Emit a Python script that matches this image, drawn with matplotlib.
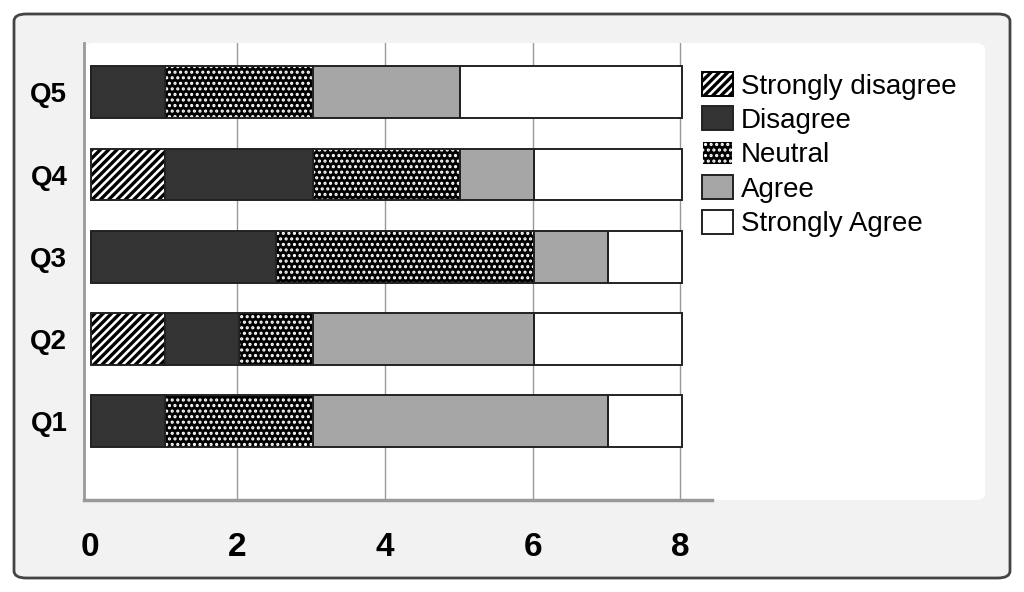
import matplotlib
matplotlib.use("Agg")
import matplotlib.pyplot as plt
from matplotlib.patches import FancyBboxPatch, Patch
import numpy as np

questions = ["Q1", "Q2", "Q3", "Q4", "Q5"]
categories = ["Strongly disagree", "Disagree", "Neutral", "Agree", "Strongly Agree"]
strongly_disagree = [0, 1, 0, 1, 0]
disagree = [1, 1, 2.5, 2, 1]
neutral = [2, 1, 3.5, 2, 2]
agree = [4, 3, 1, 1, 2]
strongly_agree = [1, 2, 1, 2, 3]
xticks = [0, 2, 4, 6, 8]

series = [strongly_disagree, disagree, neutral, agree, strongly_agree]
# (face, hatch colour, hatch, hatch linewidth)
styles = [
    ("white", "black", "////", 2.4),
    ("#333333", "#333333", None, 1.0),
    ("black", "white", "...", 1.5),
    ("#a6a6a6", "#a6a6a6", None, 1.0),
    ("white", "white", None, 1.0),
]

plt.rcParams["font.family"] = ["Liberation Sans", "DejaVu Sans"]

fig = plt.figure(figsize=(10.24, 5.92), dpi=100)
fig.patch.set_facecolor("white")

W, H = 1024, 592
def fx(px):
    return px / W
def fy(py):
    return 1 - py / H

outer = FancyBboxPatch((fx(14), fy(578)), fx(1010) - fx(14), fy(14) - fy(578),
                       boxstyle="round,pad=0,rounding_size=0.012",
                       transform=fig.transFigure, facecolor="#f2f2f2",
                       edgecolor="#444444", linewidth=2.0, zorder=-3)
fig.patches.append(outer)
inner = FancyBboxPatch((fx(84), fy(500)), fx(985) - fx(84), fy(43) - fy(500),
                       boxstyle="round,pad=0,rounding_size=0.01",
                       transform=fig.transFigure, facecolor="white",
                       edgecolor="none", linewidth=0, zorder=-2)
fig.patches.append(inner)

ax = fig.add_axes([fx(84), fy(500), fx(712) - fx(84), fy(43) - fy(500)])
ax.set_zorder(1)
ax.set_facecolor("none")
ax.set_xlim(-0.08, 8.43)
ax.set_ylim(-0.96, 4.6)

y = np.arange(len(questions))
left = np.zeros(len(questions))
bh = 0.63
for vals, (face, hcol, hatch, hlw) in zip(series, styles):
    vals = np.array(vals, dtype=float)
    plt.rcParams["hatch.linewidth"] = hlw
    ax.barh(y, vals, left=left + 0.02, height=bh, color=face, edgecolor=hcol,
            hatch=hatch, linewidth=0, zorder=2)
    ax.barh(y, vals, left=left + 0.02, height=bh, fill=False, edgecolor="#222222",
            linewidth=1.4, zorder=3)
    left += vals

ax.set_xticks(xticks)
ax.set_xticklabels([str(t) for t in xticks], fontsize=24, fontweight="bold")
ax.set_yticks(y)
ax.set_yticklabels(questions, fontsize=20, fontweight="bold")
ax.tick_params(axis="both", length=0)
ax.tick_params(axis="x", pad=23)
ax.tick_params(axis="y", pad=12)
for t in xticks[1:]:
    ax.axvline(t, color="#999999", linewidth=1.0, zorder=1)

for s in ["top", "right"]:
    ax.spines[s].set_visible(False)
ax.spines["left"].set_color("#999999")
ax.spines["left"].set_linewidth(2)
ax.spines["bottom"].set_color("#999999")
ax.spines["bottom"].set_linewidth(2.5)

handles = []
for cat, (face, hcol, hatch, hlw) in zip(categories, styles):
    handles.append(Patch(facecolor=face, edgecolor="#222222" if hatch is None else hcol,
                         hatch=hatch, linewidth=1.4, label=cat))
leg = fig.legend(handles=handles, loc="upper left",
                 bbox_to_anchor=(fx(702), fy(72)), frameon=False, fontsize=20,
                 handlelength=1.1, handleheight=0.95, handletextpad=0.3,
                 labelspacing=0.25, borderaxespad=0, borderpad=0)
for h, (face, hcol, hatch, hlw) in zip(leg.legend_handles, styles):
    h._hatch_linewidth = hlw

fig.savefig("out.png", dpi=100)
